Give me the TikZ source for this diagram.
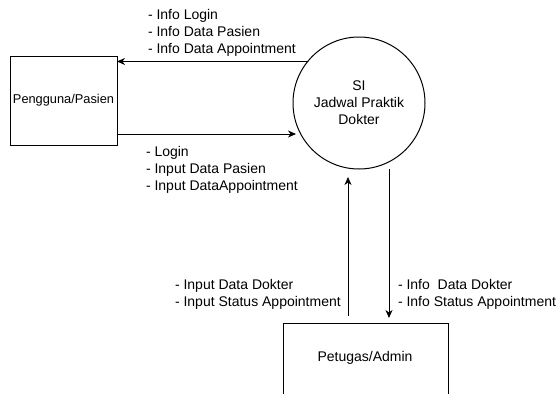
\documentclass[tikz,border=0pt]{standalone}
\usepackage{fontspec}
\setmainfont{Liberation Sans}
\usetikzlibrary{arrows.meta}
\begin{document}
\begin{tikzpicture}[x=1pt,y=-1pt,
  every node/.style={inner sep=0pt, outer sep=0pt},
  entity/.style={draw, line width=1pt, minimum width=107pt, minimum height=89pt, anchor=north west},
  process/.style={draw, circle, line width=1pt, minimum size=132pt, align=center,
    font=\fontsize{14}{17}\selectfont},
  flow/.style={line width=1pt, -{Stealth[length=8pt,width=7pt,inset=2.5pt]}},
  lbl/.style={align=left, font=\fontsize{14}{17}\selectfont}]
\useasboundingbox (0,0) rectangle (558,394);
\clip (0,0) rectangle (558,394);

% external entities and the process
\node[entity, font=\fontsize{12.8}{15}\selectfont] (user) at (10,56) {Pengguna/Pasien};
\node[entity, minimum width=165pt, minimum height=90pt] (admin) at (283,323) {};
\node[font=\fontsize{14}{17}\selectfont] (admintxt) at (365,358) {Petugas/Admin};
\node[process] (sys) at (359,103) {SI\\Jadwal Praktik\\Dokter};

% free ends of the vertical flows
\coordinate (upS) at (348,316);
\coordinate (upT) at (348,177);
\coordinate (dnS) at (389,169);
\coordinate (dnT) at (389,318);

% data flows
\draw[flow] (sys.141.6) -- (user.east |- sys.141.6);
\draw[flow] (user.east |- 0,134) -- (296,134);
\draw[flow] (upS) -- (upT);
\draw[flow] (dnS) -- (dnT);

% flow labels
\node[lbl, anchor=north west] (l1) at (148,9.5) {- Info Login\\- Info Data Pasien\\- Info Data Appointment};
\node[lbl, anchor=north west] (l2) at (146,146.5) {- Login\\- Input Data Pasien\\- Input DataAppointment};
\node[lbl, anchor=north west] (l3) at (175,279.5) {- Input Data Dokter\\- Input Status Appointment};
\node[lbl, anchor=north west] (l4) at (398,279.5) {- Info\ \ Data Dokter\\- Info Status Appointment};
\end{tikzpicture}
\end{document}
